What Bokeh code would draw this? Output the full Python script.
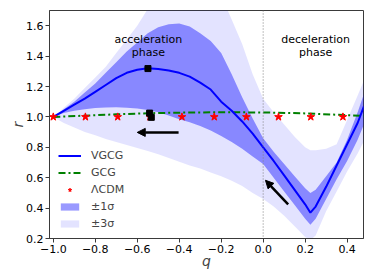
from bokeh.plotting import figure
from bokeh.models import (Range1d, Span, Arrow, NormalHead, Legend, LegendItem,
                          FixedTicker, CustomJSTickFormatter)
from bokeh.embed import file_html
from bokeh.resources import INLINE
from bokeh.core.properties import value

# ---------------- data ----------------
q_grid = [-1.0, -0.95, -0.9, -0.85, -0.8, -0.75, -0.7, -0.65, -0.6, -0.55,
          -0.5, -0.45, -0.4, -0.35, -0.3, -0.25, -0.2, -0.15, -0.1, -0.05,
          0.0, 0.05, 0.1, 0.15, 0.2, 0.225, 0.25, 0.3, 0.35, 0.4, 0.45, 0.48]
vgcg_r = [1.0, 1.04, 1.08, 1.12, 1.165, 1.21, 1.255, 1.29, 1.31, 1.32,
          1.315, 1.305, 1.29, 1.265, 1.226, 1.18, 1.10, 1.04, 0.97, 0.89,
          0.80, 0.71, 0.615, 0.52, 0.425, 0.37, 0.41, 0.54, 0.68, 0.82, 0.96, 1.07]
sig1_hi = [1.0, 1.05, 1.10, 1.16, 1.22, 1.29, 1.36, 1.43, 1.49, 1.55,
           1.59, 1.61, 1.615, 1.595, 1.55, 1.50, 1.42, 1.28, 1.13, 0.99,
           0.86, 0.77, 0.69, 0.61, 0.53, 0.50, 0.52, 0.61, 0.70, 0.85, 1.03, 1.15]
sig1_lo = [1.0, 1.025, 1.04, 1.05, 1.058, 1.062, 1.063, 1.06, 1.055, 1.045,
           1.03, 1.01, 0.985, 0.965, 0.94, 0.91, 0.875, 0.835, 0.79, 0.74,
           0.69, 0.60, 0.51, 0.42, 0.33, 0.29, 0.33, 0.46, 0.59, 0.71, 0.85, 0.95]
sig3_hi = [1.0, 1.06, 1.12, 1.19, 1.26, 1.33, 1.42, 1.51, 1.60, 1.71,
           1.80, 1.88, 1.95, 1.97, 1.95, 1.88, 1.80, 1.64, 1.48, 1.28,
           1.12, 1.03, 0.95, 0.87, 0.80, 0.78, 0.78, 0.79, 0.82, 0.98, 1.14, 1.24]
sig3_lo = [1.0, 0.96, 0.93, 0.90, 0.88, 0.855, 0.835, 0.815, 0.795, 0.775,
           0.755, 0.73, 0.705, 0.68, 0.66, 0.635, 0.61, 0.58, 0.545, 0.50,
           0.46, 0.41, 0.35, 0.28, 0.21, 0.19, 0.22, 0.38, 0.51, 0.64, 0.76, 0.84]

gcg_q = [-1.0, -0.85, -0.7, -0.55, -0.4, -0.25, -0.1, 0.05, 0.2, 0.35, 0.48]
gcg_r = [1.0, 1.008, 1.017, 1.024, 1.028, 1.03, 1.03, 1.028, 1.023, 1.014, 1.007]

lcdm_q = [-1.0, -0.847, -0.693, -0.54, -0.387, -0.233, -0.08, 0.073, 0.227, 0.38]
lcdm_r = [1.0] * 10

trans_q = [-0.549, -0.541, -0.533]
trans_r = [1.318, 1.025, 0.997]

arrow_q0 = [-0.403, 0.119]
arrow_r0 = [0.898, 0.425]
arrow_q1 = [-0.60, 0.011]
arrow_r1 = [0.898, 0.583]

note_q = [-0.547, -0.547, 0.25, 0.25]
note_r = [1.51, 1.425, 1.51, 1.425]
note_text = ["acceleration", "phase", "deceleration", "phase"]

q_divider = 0.0
x_ticks = [-1.0, -0.8, -0.6, -0.4, -0.2, 0.0, 0.2, 0.4]
y_ticks = [0.2, 0.4, 0.6, 0.8, 1.0, 1.2, 1.4, 1.6]

FONT = "DejaVu Sans"

p = figure(frame_width=314, frame_height=228, output_backend="svg",
           toolbar_location=None,
           x_range=Range1d(-1.018, 0.478), y_range=Range1d(0.2, 1.7),
           min_border_left=49, min_border_right=3, min_border_top=10,
           min_border_bottom=30)
p.grid.visible = False
p.outline_line_color = "#3a3a3a"
p.outline_line_width = 1

band3 = p.varea(x=q_grid, y1=sig3_lo, y2=sig3_hi, fill_color="blue", fill_alpha=0.11)
band1 = p.varea(x=q_grid, y1=sig1_lo, y2=sig1_hi, fill_color="blue", fill_alpha=0.40)

p.add_layout(Span(location=q_divider, dimension="height", line_color="gray",
                  line_dash="1 2", line_width=1))

gcg = p.line(gcg_q, gcg_r, line_color="green", line_width=2, line_dash="7 3 2 3")
vg = p.line(q_grid, vgcg_r, line_color="blue", line_width=2)
lc = p.scatter(lcdm_q, lcdm_r, marker="star", size=8, fill_color="red",
               line_color="red")
p.scatter(trans_q, trans_r, marker="square", size=6, color="black")

for i in range(len(arrow_q0)):
    p.add_layout(Arrow(end=NormalHead(size=8, fill_color="black", line_color="black"),
                       x_start=arrow_q0[i], y_start=arrow_r0[i],
                       x_end=arrow_q1[i], y_end=arrow_r1[i],
                       line_color="black", line_width=2.5))

p.text(x=note_q, y=note_r, text=note_text, text_align="center",
       text_baseline="middle", text_font=value(FONT), text_font_size="11px",
       text_color="black")

legend = Legend(items=[
    LegendItem(label="VGCG", renderers=[vg]),
    LegendItem(label="GCG", renderers=[gcg]),
    LegendItem(label="\u039bCDM", renderers=[lc]),
    LegendItem(label="\u00b11\u03c3", renderers=[band1]),
    LegendItem(label="\u00b13\u03c3", renderers=[band3]),
], location=(9, 6), label_text_font=FONT, label_text_font_size="11px",
    glyph_width=23, glyph_height=9, label_standoff=10, spacing=0,
    label_height=17, padding=0, margin=0, border_line_alpha=0,
    background_fill_alpha=0)
p.add_layout(legend)

fmt = CustomJSTickFormatter(code="return tick.toFixed(1).replace('-', '\\u2212');")
for ax, ticks, lab, stand in ((p.xaxis[0], x_ticks, "q", -3), (p.yaxis[0], y_ticks, "r", -3)):
    ax.ticker = FixedTicker(ticks=ticks)
    ax.formatter = fmt
    ax.axis_label = lab
    ax.axis_label_text_font = FONT
    ax.axis_label_text_font_style = "italic"
    ax.axis_label_text_font_size = "14px"
    ax.major_label_text_font = FONT
    ax.major_label_text_font_size = "11px"
    ax.major_label_text_color = "black"
    ax.axis_line_color = "#3a3a3a"
    ax.major_tick_line_color = "#3a3a3a"
    ax.major_tick_out = 4
    ax.major_tick_in = 0
    ax.minor_tick_line_color = None
    ax.major_label_standoff = 2
    ax.axis_label_standoff = stand

open("out.html", "w").write(file_html(p, INLINE))
